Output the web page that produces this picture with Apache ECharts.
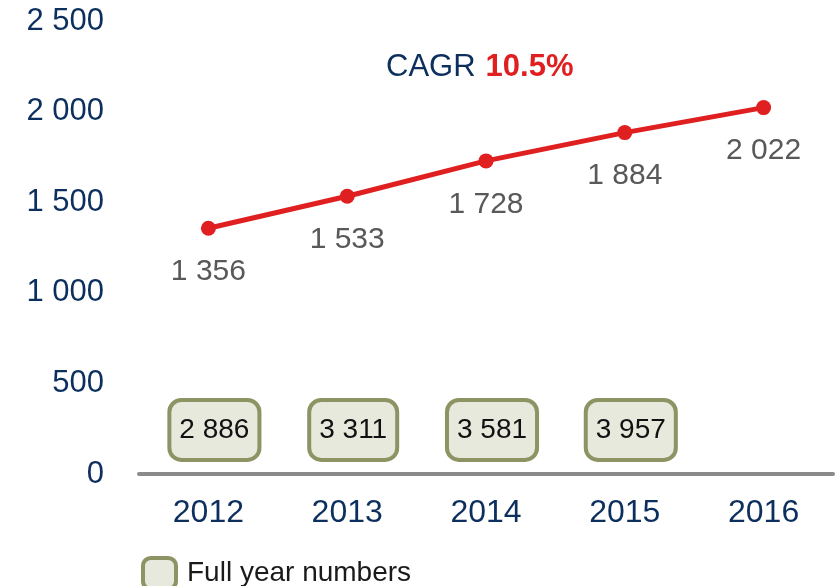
<!DOCTYPE html>
<html>
<head>
<meta charset="utf-8">
<script src="https://cdn.jsdelivr.net/npm/echarts@6/dist/echarts.min.js"></script>
<style>
  html, body { margin: 0; padding: 0; background: #fff; }
  #chart { width: 840px; height: 586px; }
</style>
</head>
<body>
<div id="chart"></div>
<script>
var years = ['2012', '2013', '2014', '2015', '2016'];
var halfYear = [1356, 1533, 1728, 1884, 2022];
var fullYear = [2886, 3311, 3581, 3957, null];
var boxLevel = 243; // where the full-year boxes sit on the value axis
var yTicks = [0, 500, 1000, 1500, 2000, 2500];

function spaced(v) {
    return String(v).replace(/\B(?=(\d{3})+(?!\d))/g, ' ');
}

var chart = echarts.init(document.getElementById('chart'));

var option = {
    animation: false,
    textStyle: { fontFamily: 'Liberation Sans, Arial, sans-serif' },
    title: {
        text: '{a|CAGR}  {b|10.5%}',
        left: 381,
        top: 47,
        textStyle: {
            fontWeight: 'normal',
            rich: {
                a: { fontSize: 31, color: '#0d2f5e', fontWeight: 'normal', fontFamily: 'Liberation Sans' },
                b: { fontSize: 31, color: '#e02020', fontWeight: 'bold', fontFamily: 'Liberation Sans' }
            }
        }
    },
    legend: {
        left: 136,
        top: 551,
        itemWidth: 33,
        itemHeight: 31,
        itemGap: 10,
        textStyle: { fontSize: 28, color: '#1a1a1a', padding: [0, 0, 0, 6] },
        data: [{
            name: 'Full year numbers',
            icon: 'roundRect',
            itemStyle: { color: '#e7e9dd', borderColor: '#8e9363', borderWidth: 4 }
        }]
    },
    grid: {
        left: 139,
        right: 7,
        top: 21,
        bottom: 112
    },
    xAxis: {
        type: 'category',
        data: years,
        axisLine: { show: true, lineStyle: { color: '#8a8a8a', width: 4 } },
        axisTick: { show: false },
        axisLabel: { fontSize: 32, color: '#0d2f5e', margin: 23 }
    },
    yAxis: {
        type: 'value',
        min: yTicks[0],
        max: yTicks[yTicks.length - 1],
        interval: 500,
        splitLine: { show: false },
        axisLine: { show: false },
        axisTick: { show: false },
        axisLabel: {
            fontSize: 31,
            color: '#0d2f5e',
            margin: 35,
            formatter: function (v) { return spaced(v); }
        }
    },
    series: [{
        name: 'H1',
        type: 'line',
        data: halfYear,
        symbol: 'circle',
        symbolSize: 15,
        lineStyle: { color: '#e02020', width: 5 },
        itemStyle: { color: '#e02020' },
        label: {
            show: true,
            position: 'bottom',
            distance: 21,
            fontSize: 30,
            color: '#595959',
            formatter: function (p) { return spaced(p.value); }
        }
    }, {
        name: 'Full year numbers',
        type: 'scatter',
        data: fullYear.map(function (v) { return v == null ? null : boxLevel; }),
        symbolSize: 1,
        itemStyle: { color: 'transparent', opacity: 1 },
        label: {
            show: true,
            position: 'inside',
            offset: [6, 0],
            fontSize: 28,
            color: '#111111',
            textBorderWidth: 0,
            backgroundColor: '#e7e9dd',
            borderColor: '#8e9363',
            borderWidth: 4,
            borderRadius: 10,
            padding: [14, 8, 14, 8],
            formatter: function (p) { return spaced(fullYear[p.dataIndex]); }
        }
    }]
};
chart.setOption(option);
</script>
</body>
</html>
